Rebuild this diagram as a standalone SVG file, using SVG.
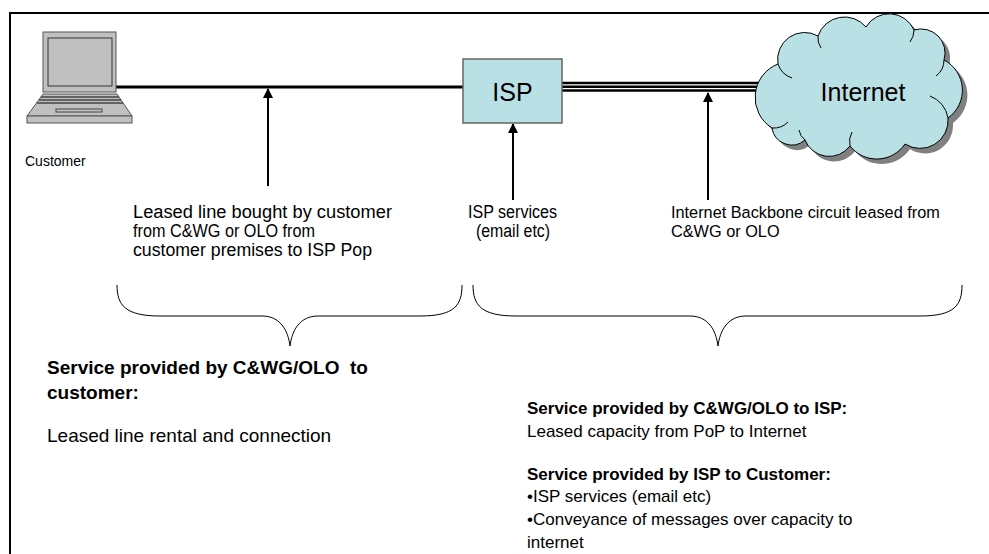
<svg xmlns="http://www.w3.org/2000/svg" width="989" height="554" viewBox="0 0 989 554">
<style>
.t{font-family:"Liberation Sans",Arial,sans-serif;font-size:17px;fill:#000}
.n{font-family:"Liberation Sans",Arial,sans-serif;font-size:18px;fill:#000}
.big{font-size:19px}
.b{font-weight:bold}
.arr{stroke:#000;stroke-width:2;fill:none;marker-end:url(#ah)}
.br{stroke:#000;stroke-width:1;fill:none}
</style>
<defs>
<marker id="ah" markerWidth="10" markerHeight="12" refX="9" refY="5" orient="auto" markerUnits="userSpaceOnUse">
<path d="M0,0 L10,5 L0,10 Z" fill="#000"/>
</marker>
<path id="cloudp" d="M772,128 A36,36 0 0 1 778,64 A27,27 0 0 1 818,36 A28,28 0 0 1 866,27 A27,27 0 0 1 914,30 A24,24 0 0 1 944,60 A34,34 0 0 1 948,118 A28,28 0 0 1 905,144 A34,34 0 0 1 850,146 A26,26 0 0 1 805,140 A20,20 0 0 1 772,128 Z"/>
</defs>
<rect width="989" height="554" fill="#fff"/>
<g id="frame"><path d="M10,554 L10,13 L989,13" stroke="#000" stroke-width="2" fill="none"/></g>

<g id="connectors">
<line x1="113" y1="87" x2="463" y2="87" stroke="#000" stroke-width="3"/>
<path d="M562,83 L770,83 M562,86.8 L770,86.8 M562,90.6 L770,90.6" stroke="#000" stroke-width="2.5"/>
<line class="arr" x1="268" y1="186" x2="268" y2="89"/>
<line class="arr" x1="513" y1="200" x2="513" y2="124"/>
<line class="arr" x1="708" y1="200" x2="708" y2="93"/>
<path class="br" d="M117,285 C117,305 125,316 160,316 L262,316 C280,316 288,330 290,346 C292,330 300,316 318,316 L420,316 C455,316 462,305 462,285"/>
<path class="br" d="M473,285 C473,305 481,316 516,316 L690,316 C708,316 716,330 718,346 C720,330 728,316 746,316 L920,316 C955,316 962,305 962,285"/>
</g>

<g id="customer">
<rect x="43" y="32" width="73" height="60" fill="#c0c0c0" stroke="#555" stroke-width="1"/>
<rect x="48" y="38" width="64" height="48" fill="#c0c0c0" stroke="#333" stroke-width="1"/>
<polygon points="43,94 117,94 132,116 27,116" fill="#c0c0c0" stroke="#555" stroke-width="1"/>
<rect x="27" y="116" width="105" height="7" fill="#c0c0c0" stroke="#555" stroke-width="1"/>
<path d="M41,97 L119,97 M39,100 L121,100 M37,103 L123,103" stroke="#444" stroke-width="1.5"/>
<rect x="56" y="109" width="46" height="3" fill="#c0c0c0" stroke="#444" stroke-width="1"/>
<text class="t" x="25" y="166" style="font-size:14px">Customer</text>
</g>

<g id="isp">
<rect x="463" y="59" width="99" height="64" fill="#b9e0e4" stroke="#666" stroke-width="1.5"/>
<text class="t" x="512.5" y="101" text-anchor="middle" style="font-size:25px">ISP</text>
</g>

<g id="internet">
<use href="#cloudp" transform="translate(5,5)" fill="#808080"/>
<use href="#cloudp" fill="#b9e0e4" stroke="#000" stroke-width="1"/>
<path d="M778,64 A22,22 0 0 0 792,78 M818,36 A18,18 0 0 0 821,48 M914,30 A20,20 0 0 1 910,42 M944,60 A20,20 0 0 1 936,76 M948,118 A28,28 0 0 0 930,96 M850,146 A20,20 0 0 1 852,132 M805,140 A16,16 0 0 1 799,130 M772,128 A20,20 0 0 0 788,122" stroke="#000" stroke-width="1" fill="none"/>
<text class="t" x="863" y="101" text-anchor="middle" style="font-size:25px">Internet</text>
</g>

<g id="labels">
<text class="n" x="133" y="218" textLength="259" lengthAdjust="spacingAndGlyphs">Leased line bought by customer</text>
<text class="n" x="133" y="237" textLength="182" lengthAdjust="spacingAndGlyphs">from C&amp;WG or OLO from</text>
<text class="n" x="133" y="256" textLength="239" lengthAdjust="spacingAndGlyphs">customer premises to ISP Pop</text>
<text class="n" x="468" y="218" textLength="89" lengthAdjust="spacingAndGlyphs">ISP services</text>
<text class="n" x="476" y="237" textLength="74" lengthAdjust="spacingAndGlyphs">(email etc)</text>
<text class="t" x="671" y="218" style="font-size:16.3px">Internet Backbone circuit leased from</text>
<text class="t" x="671" y="237" style="font-size:16.3px">C&amp;WG or OLO</text>
</g>

<g id="notes">
<text class="t b big" x="47" y="374" style="white-space:pre">Service provided by C&amp;WG/OLO  to</text>
<text class="t b big" x="47" y="399">customer:</text>
<text class="t big" x="47" y="442">Leased line rental and connection</text>
<text class="t b" x="527" y="414">Service provided by C&amp;WG/OLO to ISP:</text>
<text class="t" x="527" y="437">Leased capacity from PoP to Internet</text>
<text class="t b" x="527" y="480">Service provided by ISP to Customer:</text>
<text class="t" x="527" y="502">•ISP services (email etc)</text>
<text class="t" x="527" y="525">•Conveyance of messages over capacity to</text>
<text class="t" x="527" y="548">internet</text>
</g>
</svg>
